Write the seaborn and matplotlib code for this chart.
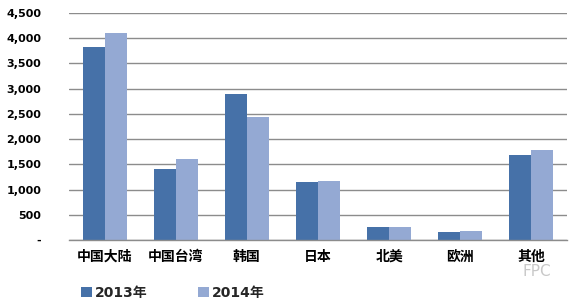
import matplotlib
matplotlib.use("Agg")
import matplotlib.pyplot as plt
import seaborn as sns
import pandas as pd
from matplotlib.patches import Patch
from matplotlib.ticker import FuncFormatter

categories = ["中国大陆", "中国台湾", "韩国", "日本", "北美", "欧洲", "其他"]
values_2013 = [3820, 1400, 2890, 1140, 255, 150, 1690]
values_2014 = [4100, 1605, 2430, 1175, 255, 175, 1785]
series = ["2013年", "2014年"]
yticks = [0, 500, 1000, 1500, 2000, 2500, 3000, 3500, 4000, 4500]

df = pd.DataFrame({
    "region": categories * 2,
    "value": values_2013 + values_2014,
    "year": [series[0]] * len(categories) + [series[1]] * len(categories),
})

sns.set_theme(style="white")
plt.rcParams["font.family"] = ["Noto Sans CJK SC", "DejaVu Sans"]

colors = {"2013年": "#4671A8", "2014年": "#94A9D3"}

fig = plt.figure(figsize=(5.79, 3.01), dpi=100)
ax = fig.add_axes([69/579, 1 - 240/301, (567 - 69)/579, (240 - 13)/301])

sns.barplot(data=df, x="region", y="value", hue="year", palette=colors,
            width=0.62, gap=0, ax=ax, legend=False, saturation=1,
            edgecolor="none", linewidth=0)

ax.set_ylim(0, 4500)
ax.set_xlim(-0.5, len(categories) - 0.5)
ax.set_yticks(yticks)
ax.yaxis.set_major_formatter(FuncFormatter(lambda v, p: "-" if v == 0 else f"{int(v):,}"))
ax.grid(axis="y", color="#8c8c8c", linewidth=1.0)
ax.set_axisbelow(True)
for s in ["top", "right", "left"]:
    ax.spines[s].set_visible(False)
ax.spines["bottom"].set_color("#8c8c8c")
ax.spines["bottom"].set_linewidth(1.0)

ax.set_xlabel("")
ax.set_ylabel("")
ax.set_xticks(range(len(categories)))
ax.set_xticklabels(categories, fontsize=10, fontweight="bold", color="black")
ax.tick_params(axis="x", which="major", length=0, pad=7)
ax.set_xticks([i - 0.5 for i in range(len(categories) + 1)], minor=True)
ax.tick_params(axis="x", which="minor", length=4, width=1, color="#8c8c8c", direction="out")
ax.tick_params(axis="y", length=0, pad=20)
for lbl in ax.get_yticklabels():
    lbl.set_fontweight("bold")
    lbl.set_color("black")
    lbl.set_family(["DejaVu Sans"])
    lbl.set_fontsize(8)

handles = [Patch(facecolor=colors[s], edgecolor="none", label=s) for s in series]
fig.legend(handles=handles, loc="center left", bbox_to_anchor=(68/579, 1 - 293/301),
           ncol=2, frameon=False,
           prop={"size": 10, "weight": "bold", "family": ["DejaVu Sans", "Noto Sans CJK SC"]},
           handlelength=0.8, handleheight=0.8, handletextpad=0.25, columnspacing=3.6)

fig.text(537/579, 1 - 272/301, "FPC", fontsize=11, color="#c8c8c8", ha="center", va="center",
         family=["DejaVu Sans"])

fig.savefig("out.png", dpi=100)
